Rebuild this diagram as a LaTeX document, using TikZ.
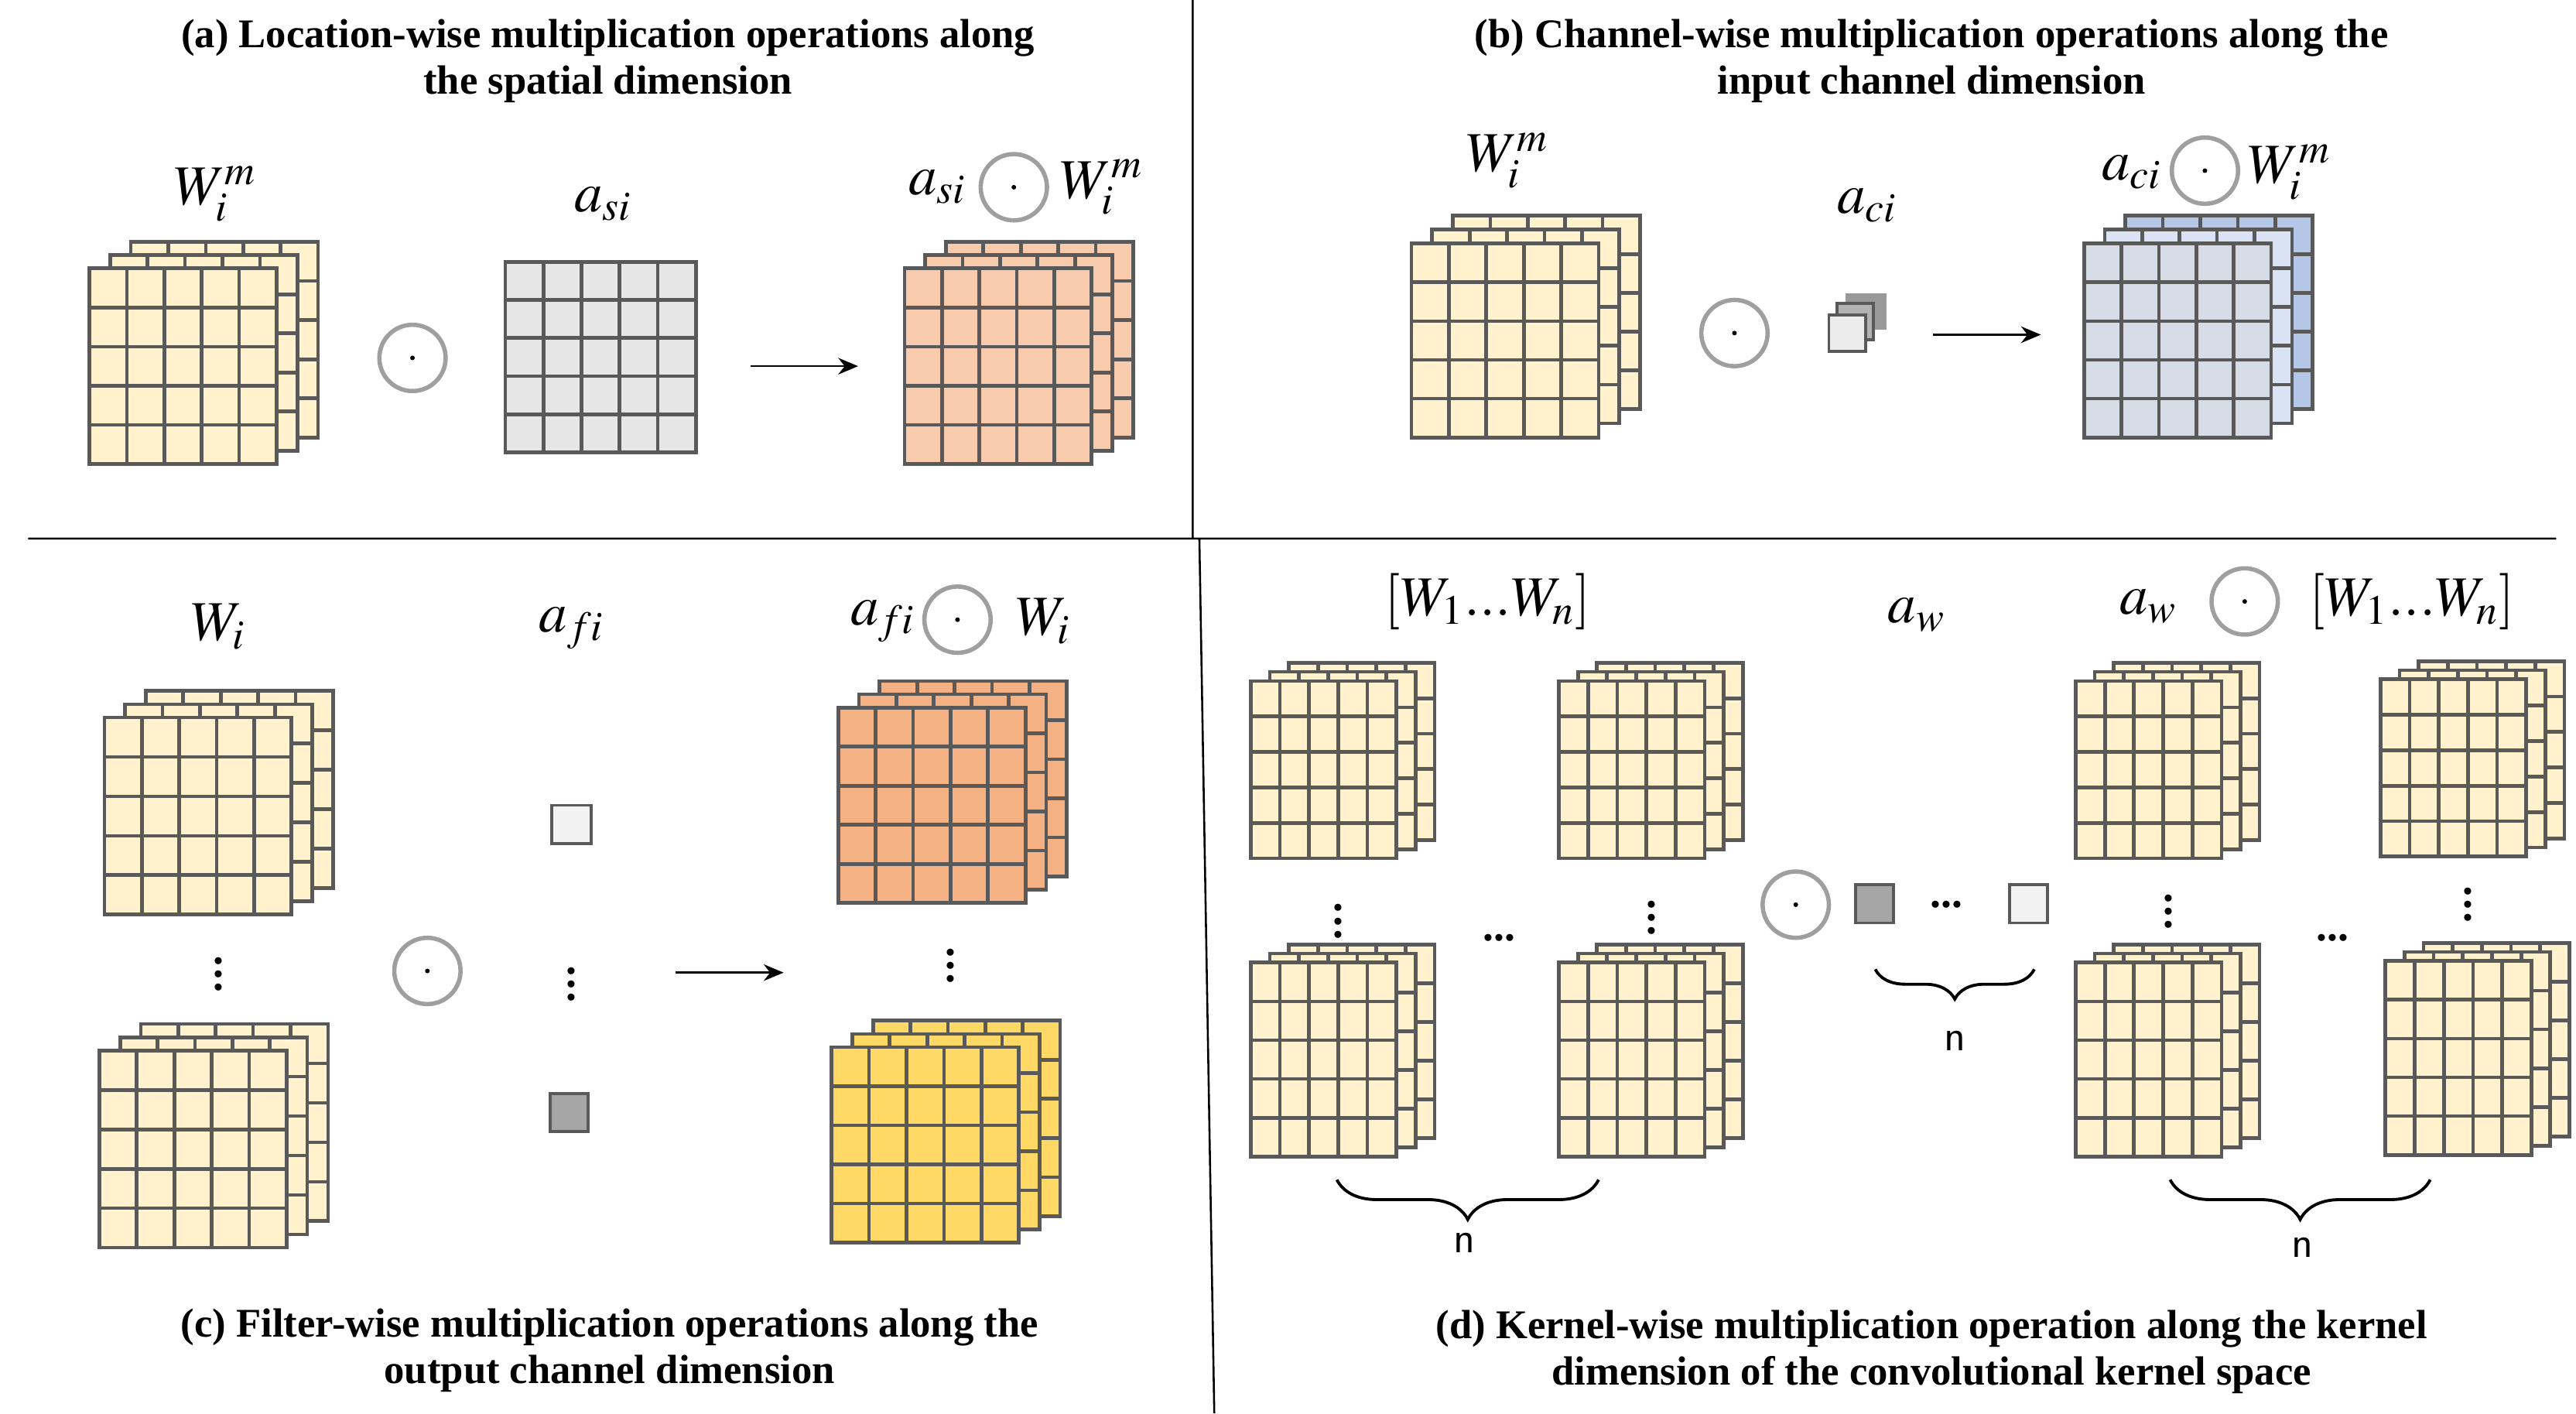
\documentclass[tikz,border=0pt]{standalone}
\usepackage{mathptmx}
\usepackage[no-math]{fontspec}
\setmainfont{Liberation Serif}
\usetikzlibrary{decorations.pathreplacing,arrows.meta}
\definecolor{gl}{HTML}{595959}
\definecolor{yel}{HTML}{FFF2CC}
\definecolor{gry}{HTML}{E7E6E6}
\definecolor{org}{HTML}{F8CBAD}
\definecolor{dorg}{HTML}{F4B183}
\definecolor{gold}{HTML}{FFD966}
\definecolor{bl1}{HTML}{D6DCE5}
\definecolor{bl2}{HTML}{DAE3F3}
\definecolor{bl3}{HTML}{B4C7E7}
\tikzset{
 gridl/.style={draw=gl,line width=1.1},
 odot/.style={circle,draw=gray!75,line width=1.3,minimum size=20,inner sep=0,
   path picture={\fill[black] (path picture bounding box.center) circle (1.4);}},
 lab/.style={font=\fontsize{17}{20}\selectfont,inner sep=0},
 ttl/.style={font=\bfseries\fontsize{12.3}{14}\selectfont,align=center},
 dts/.style={font=\bfseries\fontsize{13}{13}\selectfont,inner sep=0},
 arr/.style={-{Stealth[length=6,width=5]},line width=0.6},
 brc/.style={decorate,decoration={brace,mirror,amplitude=9},line width=0.9},
 sq/.style={draw=gl,line width=0.9},
 nn/.style={font=\sffamily\fontsize{13}{15}\selectfont},
}
\newcommand\grd[5]{%
 \fill[#5] (#1,#2) rectangle ++(#3,#4);
 \foreach \k in {1,...,4}{\draw[gridl] ({#1+\k*#3/5},#2) -- ++(0,#4);
   \draw[gridl] (#1,{#2+\k*#4/5}) -- ++(#3,0);}
 \draw[gridl] (#1,#2) rectangle ++(#3,#4);}
\newcommand\stk[9]{%
 \grd{#1+2*#5}{#2-2*#6}{#3}{#4}{#9}
 \grd{#1+#5}{#2-#6}{#3}{#4}{#8}
 \grd{#1}{#2}{#3}{#4}{#7}}
\begin{document}
\begin{tikzpicture}[x=0.5pt,y=-0.5pt]
\useasboundingbox (0,0) rectangle (1555,853);
\coordinate (v1) at (720,0); \coordinate (v2) at (720,325);
\coordinate (v3) at (724,325); \coordinate (v4) at (733,853);
\coordinate (h1) at (17,325); \coordinate (h2) at (1543,325);
\draw[line width=0.6] (v1)--(v2) (v3)--(v4) (h1)--(h2);
\node[ttl] (ta) at (367,37) {(a) Location-wise multiplication operations along\\the spatial dimension};
\node[ttl] (tb) at (1166,37) {(b) Channel-wise multiplication operations along the\\input channel dimension};
\node[ttl] (tc) at (368,815) {(c) Filter-wise multiplication operations along the\\output channel dimension};
\node[ttl] (td) at (1166,816) {(d) Kernel-wise multiplication operation along the kernel\\dimension of the convolutional kernel space};
% ---- (a)
\stk{54}{162}{113}{118}{12.5}{8}{yel}{yel}{yel}
\grd{305}{158}{115}{115}{gry}
\node[odot] (oa) at (249,216) {};
\coordinate (a1) at (453,221); \coordinate (a2) at (518,221);
\draw[arr] (a1)--(a2);
\stk{546}{162}{113}{118}{12.5}{8}{org}{org}{org}
\node[lab] (la1) at (130,117) {$W_i^m$};
\node[lab] (la2) at (364,123) {$a_{si}$};
\node[lab] (la3) at (566,113) {$a_{si}$};
\node[odot] (oa2) at (612,113) {};
\node[lab] (la4) at (665,113) {$W_i^m$};
% ---- (b)
\stk{852}{147}{113}{117}{12.5}{8.5}{yel}{yel}{yel}
\node[lab] (lb1) at (910,97) {$W_i^m$};
\node[odot] (ob) at (1047,201) {};
\fill[gray!80] (1114,177) rectangle ++(25,22);
\draw[sq,fill=gray!60] (1109,183) rectangle ++(22,22);
\draw[sq,fill=gray!15] (1104,190) rectangle ++(22,22);
\node[lab] (lb2) at (1127,124) {$a_{ci}$};
\coordinate (b1) at (1167,202); \coordinate (b2) at (1232,202);
\draw[arr] (b1)--(b2);
\stk{1258}{147}{113}{117}{12.5}{8.5}{bl1}{bl2}{bl3}
\node[lab] (lb3) at (1287,104) {$a_{ci}$};
\node[odot] (ob2) at (1331,103) {};
\node[lab] (lb4) at (1382,104) {$W_i^m$};
% ---- (c)
\stk{63}{433}{113}{119}{12.5}{8}{yel}{yel}{yel}
\stk{60}{634}{113}{119}{12.5}{8}{yel}{yel}{yel}
\node[lab] (lc1) at (132,378) {$W_i$};
\node[dts] (dc1) at (132,582) {$\vdots$};
\node[odot] (oc) at (258,586) {};
\node[lab] (lc2) at (345,379) {$a_{fi}$};
\draw[sq,fill=gray!10] (333,486) rectangle ++(24,23);
\node[dts] (dc2) at (345,588) {$\vdots$};
\draw[sq,fill=gray!70] (332,660) rectangle ++(23,23);
\coordinate (c1) at (408,587); \coordinate (c2) at (473,587);
\draw[arr] (c1)--(c2);
\stk{506}{427}{113}{118}{12.5}{8}{dorg}{dorg}{dorg}
\stk{502}{632}{113}{118}{12.5}{8}{gold}{gold}{gold}
\node[dts] (dc3) at (574,577) {$\vdots$};
\node[lab] (lc3) at (533,375) {$a_{fi}$};
\node[odot] (oc2) at (578,374) {};
\node[lab] (lc4) at (630,375) {$W_i$};
% ---- (d)
\stk{755}{411}{88}{107}{11.5}{5.5}{yel}{yel}{yel}
\stk{941}{411}{88}{107}{11.5}{5.5}{yel}{yel}{yel}
\stk{755}{581}{88}{117}{11.5}{5.5}{yel}{yel}{yel}
\stk{941}{581}{88}{117}{11.5}{5.5}{yel}{yel}{yel}
\stk{1253}{411}{88}{107}{11.5}{5.5}{yel}{yel}{yel}
\stk{1437}{410}{88}{107}{11.5}{5.5}{yel}{yel}{yel}
\stk{1253}{581}{88}{117}{11.5}{5.5}{yel}{yel}{yel}
\stk{1440}{580}{88}{117}{11.5}{5.5}{yel}{yel}{yel}
\node[dts] (dd1) at (808,550) {$\vdots$};
\node[dts] (dd2) at (997,548) {$\vdots$};
\node[dts] (dd3) at (1309,544) {$\vdots$};
\node[dts] (dd4) at (1490,540) {$\vdots$};
\node[dts] (hd1) at (905,566) {...};
\node[dts] (hd2) at (1408,566) {...};
\node[odot] (od) at (1084,546) {};
\draw[sq,fill=gray!70] (1120,534) rectangle ++(23,23);
\node[dts] (hd3) at (1175,546) {...};
\draw[sq,fill=gray!10] (1213,534) rectangle ++(23,23);
\coordinate (br1) at (1132,585); \coordinate (br2) at (1228,585);
\draw[brc] (br1)--(br2);
\node[nn] (n1) at (1180,628) {n};
\coordinate (br3) at (807,712); \coordinate (br4) at (965,712);
\draw[brc,decoration={amplitude=12}] (br3)--(br4);
\node[nn] (n2) at (884,750) {n};
\coordinate (br5) at (1310,712); \coordinate (br6) at (1467,712);
\draw[brc,decoration={amplitude=12}] (br5)--(br6);
\node[nn] (n3) at (1390,753) {n};
\node[lab] (ld1) at (898,363) {$[W_1 ... W_n]$};
\node[lab] (ld2) at (1157,371) {$a_w$};
\node[lab] (ld3) at (1297,366) {$a_w$};
\node[odot] (od2) at (1355,363) {};
\node[lab] (ld4) at (1456,363) {$[W_1 ... W_n]$};
\end{tikzpicture}
\end{document}
